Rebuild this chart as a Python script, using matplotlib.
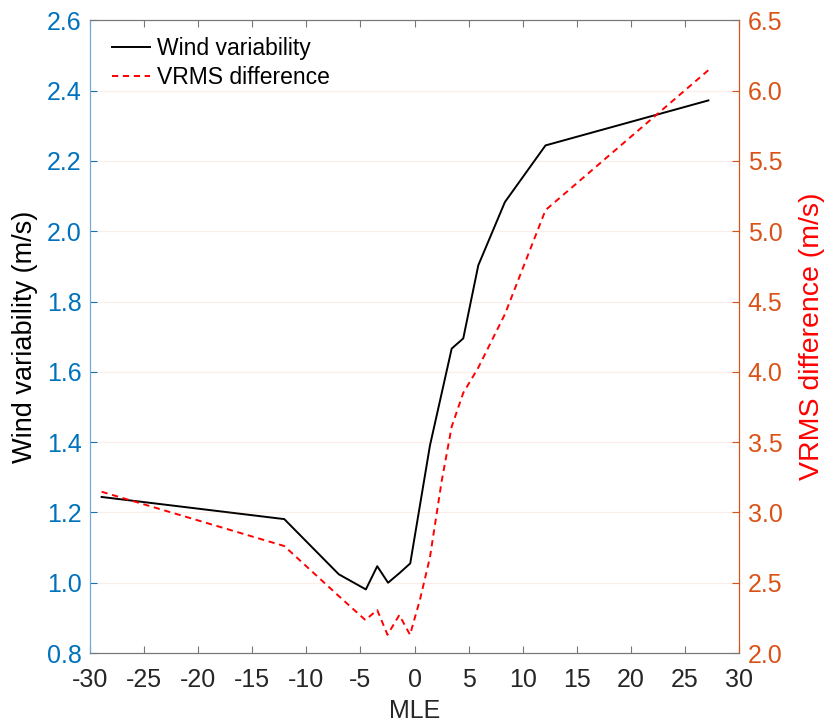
import matplotlib
matplotlib.use("Agg")
import matplotlib.pyplot as plt

plt.rcParams['font.family'] = ['Liberation Sans', 'DejaVu Sans']
plt.rcParams['axes.unicode_minus'] = False

# MLE bins
mle = [-28.92, -12.04, -7.0, -4.5, -3.45, -2.45, -1.41, -0.4, 1.42, 3.43, 4.5, 5.89, 8.35, 12.1, 27.15]
# Wind variability (m/s)
wind_var = [1.244, 1.181, 1.024, 0.981, 1.047, 1.0, 1.027, 1.055, 1.39, 1.666, 1.695, 1.903, 2.083, 2.244, 2.372]
# VRMS difference (m/s)
vrms_mle = [-28.92, -12.04, -7.0, -4.55, -3.45, -2.5, -1.41, -0.42, 0.5, 1.42, 2.5, 3.43, 4.5, 5.89, 8.35, 12.1, 27.15]
vrms_diff = [3.147, 2.761, 2.405, 2.235, 2.306, 2.13, 2.27, 2.13, 2.38, 2.68, 3.22, 3.61, 3.85, 4.03, 4.41, 5.15, 6.145]

left_ticks = [0.8, 1.0, 1.2, 1.4, 1.6, 1.8, 2.0, 2.2, 2.4, 2.6]
right_ticks = [2.0, 2.5, 3.0, 3.5, 4.0, 4.5, 5.0, 5.5, 6.0, 6.5]
x_ticks = list(range(-30, 31, 5))

BLUE = '#0072BD'
ORANGE = '#D95319'
GREY = '#262626'

fig = plt.figure(figsize=(8.25, 7.24), dpi=100)
ax = fig.add_axes([0.109, 0.098, 0.787, 0.874])
ax2 = ax.twinx()

h1, = ax.plot(mle, wind_var, color='black', lw=1.4, label='Wind variability')
h2, = ax2.plot(vrms_mle, vrms_diff, color='#FF0000', lw=1.4, ls=(0, (3.2, 2.4)),
               label='VRMS difference')

ax.set_xlim(-30, 30)
ax.set_ylim(0.8, 2.6)
ax2.set_ylim(2.0, 6.5)
ax.set_xticks(x_ticks)
ax.set_xticklabels([str(v) for v in x_ticks])
ax.set_yticks(left_ticks)
ax2.set_yticks(right_ticks)
ax.set_yticklabels([f'{v:.1f}' for v in left_ticks])
ax2.set_yticklabels([f'{v:.1f}' for v in right_ticks])

# horizontal grid in a pale tint of the right-axis colour
for v in right_ticks[1:-1]:
    ax2.axhline(v, color=ORANGE, alpha=0.10, lw=0.9, zorder=0)

ax.tick_params(axis='x', direction='in', length=5, width=0.8, color='#777777',
               labelsize=18, labelcolor=GREY, top=True, pad=11)
ax.tick_params(axis='y', direction='in', length=5, width=0.8, color=BLUE,
               labelsize=18, labelcolor=BLUE, pad=6)
ax2.tick_params(axis='y', direction='in', length=5, width=0.8, color=ORANGE,
                labelsize=18, labelcolor=ORANGE, pad=6)

for a in (ax, ax2):
    a.spines['top'].set_color('#777777')
    a.spines['bottom'].set_color('#777777')
    a.spines['left'].set_color('#6FA8DC')
    a.spines['right'].set_color(ORANGE)
    for s in a.spines.values():
        s.set_linewidth(0.8)

ax.set_xlabel('MLE', fontsize=18, color=GREY, labelpad=5)
ax.set_ylabel('Wind variability (m/s)', fontsize=19.5, color='black', labelpad=6)
ax2.set_ylabel('VRMS difference (m/s)', fontsize=20.5, color='#FF0000', labelpad=12)

ax.legend(handles=[h1, h2], loc='upper left', frameon=False, fontsize=16.5,
          handlelength=1.65, handletextpad=0.3, labelspacing=0.25,
          bbox_to_anchor=(0.008, 1.0), borderaxespad=0.35)

fig.savefig('out.png', dpi=100)
